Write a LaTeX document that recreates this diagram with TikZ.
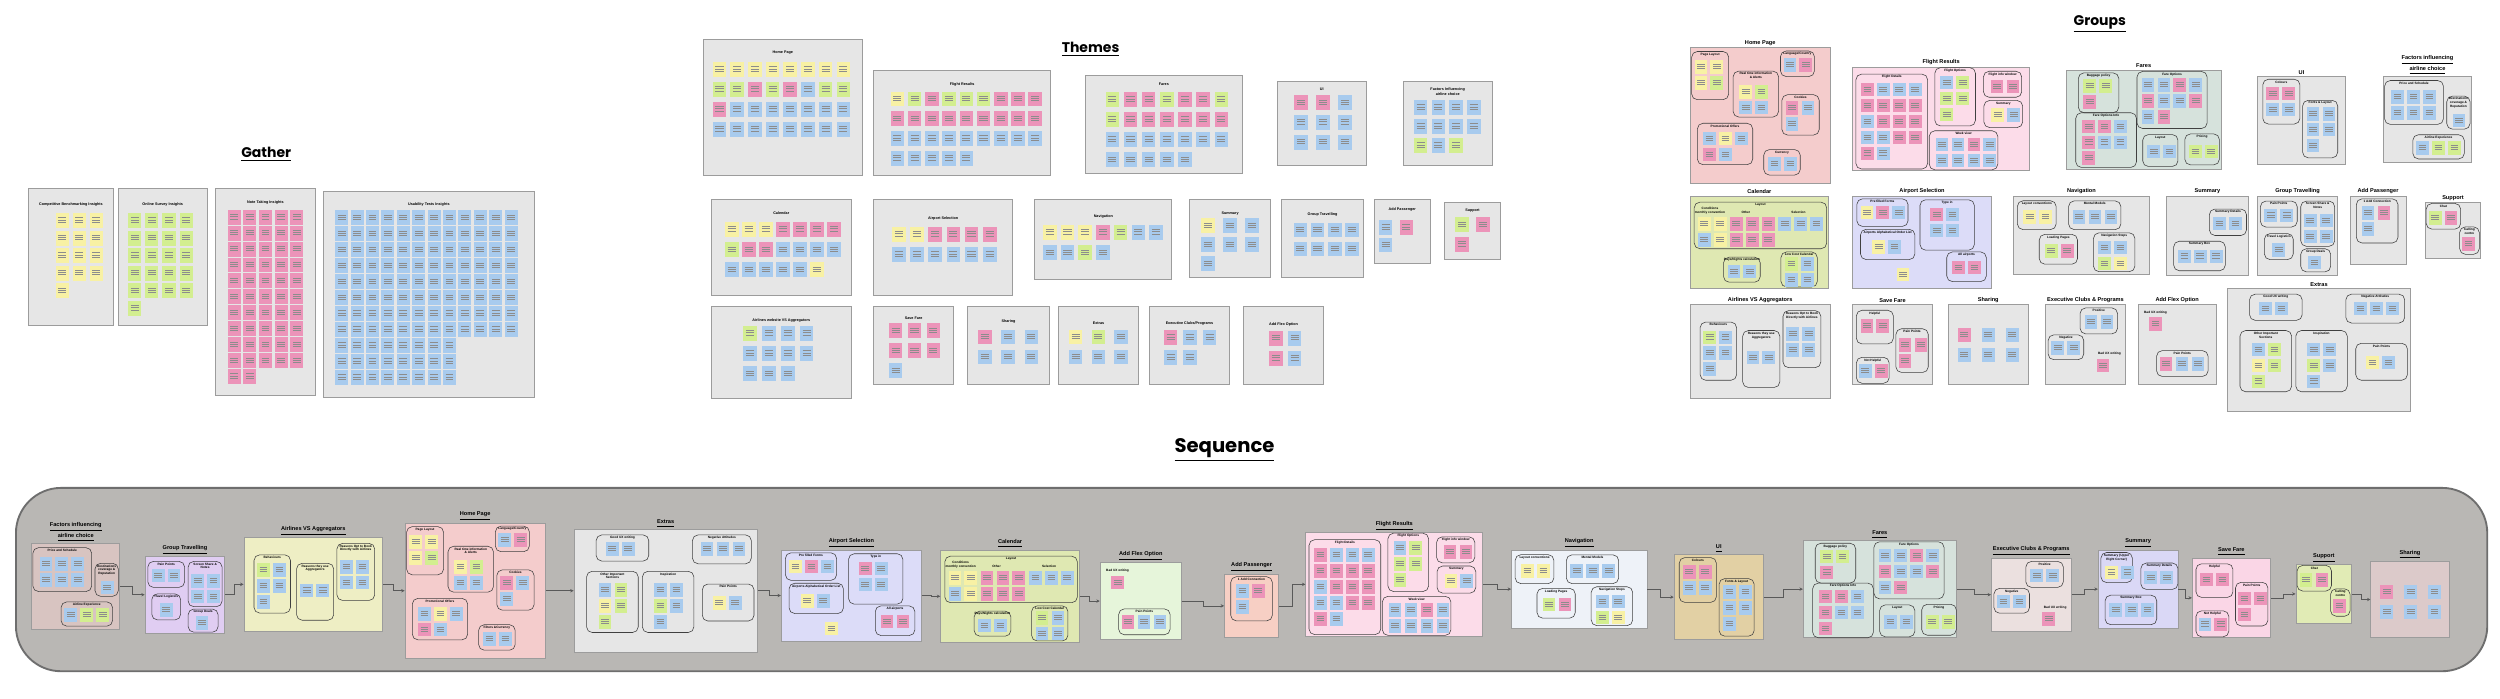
\documentclass[tikz,border=0pt]{standalone}
\usepackage{fontspec}
\setmainfont{Liberation Sans}
\newfontfamily\headfont{Poppins}
\usetikzlibrary{arrows.meta,positioning,fit,calc}

% sticky note colours
\definecolor{sy}{HTML}{F8F1A4}
\definecolor{sg}{HTML}{D3EE90}
\definecolor{sp}{HTML}{EC94B9}
\definecolor{sb}{HTML}{A8CBEE}
% boards
\definecolor{boardgray}{HTML}{E6E6E6}
\definecolor{boardline}{HTML}{9C9C9C}
\definecolor{seqgray}{HTML}{B9B7B4}
\definecolor{seqline}{HTML}{6E6E6E}
\definecolor{pHome}{HTML}{F4CCCC}
\definecolor{pFlight}{HTML}{FCDCE9}
\definecolor{pFares}{HTML}{D6E2DC}
\definecolor{pCal}{HTML}{DFE8B2}
\definecolor{pAirport}{HTML}{DCDCF8}
\definecolor{pFactors}{HTML}{D8C4C1}
\definecolor{pGroupT}{HTML}{E0CDF2}
\definecolor{pAirVS}{HTML}{EEEEC4}
\definecolor{pFlex}{HTML}{E6F5DA}
\definecolor{pAddP}{HTML}{F7CFC4}
\definecolor{pNav}{HTML}{EEF2F8}
\definecolor{pUI}{HTML}{E2D0A4}
\definecolor{pExec}{HTML}{EBE0DF}
\definecolor{pSummary}{HTML}{DAD8F6}
\definecolor{pSave}{HTML}{FAD6E6}
\definecolor{pSupport}{HTML}{E1EBB5}
\definecolor{pSharing}{HTML}{DCCACA}

\tikzset{
  board/.style={draw=boardline, line width=0.45pt, inner sep=0pt},
  seqbox/.style={draw=seqline, fill=seqgray, line width=1pt, rounded corners=0.85cm, inner sep=0pt},
  grp/.style={draw=black!75, line width=0.3pt, rounded corners=3pt},
  txtline/.style={draw=black!45, line width=0.15pt},
  ttitle/.style={font=\fontsize{2}{2.3}\selectfont\bfseries, align=center, inner sep=0.5pt},
  gtitle/.style={font=\fontsize{1.7}{2}\selectfont\bfseries, align=center, inner sep=0.6pt},
  lbl/.style={font=\fontsize{1.7}{2}\selectfont\bfseries, align=center, inner sep=0.5pt},
  ptitle/.style={font=\fontsize{3}{3.5}\selectfont\bfseries, align=center, inner sep=0.8pt},
  bigtitle/.style={font=\headfont\bfseries\fontsize{7.5}{9}\selectfont},
  seqtitle/.style={font=\headfont\bfseries\fontsize{10.5}{12}\selectfont},
  flow/.style={draw=black!65, line width=0.4pt, -{Stealth[length=1.8pt,width=1.8pt]}},
}

% sticky note grids
\newcommand{\pitch}[2]{\def\npx{#1}\def\npy{#2}}
\newcommand{\notesize}[2]{\def\nw{#1}\def\nh{#2}}
\newcommand{\stk}[3]{% x, y, colour
  \fill[#3] (#1,#2) rectangle ++(\nw,\nh);
  \foreach \f in {0.3,0.45,0.6}
    \draw[txtline] ({#1+0.2*\nw},{#2+\f*\nh}) -- ++({0.6*\nw},0);}
\newcommand{\notes}[4]{% x, y, columns, colour list
  \foreach \clr [count=\i from 0] in {#4} {
    \pgfmathsetmacro{\xx}{#1+mod(\i,#3)*\npx}
    \pgfmathsetmacro{\yy}{#2+div(\i,#3)*\npy}
    \stk{\xx}{\yy}{\clr}
  }}
\newcommand{\noteblock}[5]{% x, y, columns, count, colour
  \foreach \i in {1,...,#4} {
    \pgfmathsetmacro{\xx}{#1+mod(\i-1,#3)*\npx}
    \pgfmathsetmacro{\yy}{#2+div(\i-1,#3)*\npy}
    \stk{\xx}{\yy}{#5}
  }}
\newcommand{\sub}[5]{%
  \draw[grp] (#1,#2) rectangle (#3,#4);
  \node[gtitle, anchor=north] at ({(#1+#3)/2},#2) {#5};}
% theme board: [title y] name x y w h title content
\newcommand{\theme}[8][8]{%
  \node[board, fill=boardgray, fit={(#3,#4) ({#3+#5},{#4+#6})}] (#2) {};
  \node[ttitle] (#2-t) at ({#3+#5/2},{#4+#1}) {#7};
  \begin{scope}[shift={(#3,#4)}] #8 \end{scope}}
% group board: name x y w h fill title content
\newcommand{\panel}[8]{%
  \node[board, fill=#6, fit={(#2,#3) ({#2+#4},{#3+#5})}] (#1) {};
  \node[ptitle, anchor=south] (#1-t) at (#1.north) {#7};
  \begin{scope}[shift={(#2,#3)}] #8 \end{scope}}

% board contents
\def\cFactors{%
  \sub{0.6}{2.5}{37.5}{30}{Price and Schedule}
  \notes{4.8}{8.5}{3}{sb,sb,sb,sb,sb,sb}
  \sub{39.6}{12.3}{54.2}{33}{Destinations\\coverage \&\\Reputation}
  \notes{43.3}{23.3}{1}{sb}
  \sub{18.3}{36.5}{50.6}{51.7}{Airline Experience}
  \notes{20.4}{40.5}{3}{sb,sg,sg}}
\def\cGroupT{%
  \sub{1.7}{3.1}{24.8}{19.4}{Pain Points}
  \notes{4.2}{7.8}{2}{sb,sb}
  \sub{27}{3.1}{48.3}{31.5}{Screen Share \&\\Notes}
  \notes{29}{11}{2}{sb,sb,sb,sb}
  \sub{4.2}{23.5}{22.3}{39.8}{Travel Logistics}
  \notes{9.2}{29.4}{1}{sb}
  \sub{27}{33}{45.8}{47.5}{Group Deals}
  \notes{31.7}{37.5}{1}{sb}}
\def\cAirVS{%
  \sub{6.3}{11}{29.2}{47.5}{Behaviours}
  \notes{8.3}{16.3}{2}{sg,sb,sb,sb,sb}
  \sub{33}{16.3}{56.3}{52}{Reasons they use\\Aggregators}
  \notes{35.4}{29}{2}{sb,sb}
  \sub{58.3}{3.8}{82}{39.6}{Reasons Opt to Book\\Directly with Airlines}
  \notes{60.4}{14.2}{2}{sb,sb,sb,sb}}
\def\cHome{%
  \sub{1}{2.3}{24.2}{32.5}{Page Layout}
  \notes{2.8}{7.8}{2}{sy,sy,sy,sg}
  \sub{27}{14.6}{55.5}{43.4}{Real time information\\\& Alerts}
  \notes{30.9}{23.3}{2}{sy,sg,sb,sb}
  \sub{56.7}{2}{78}{18}{Language/Country}
  \notes{58.6}{6.4}{2}{sb,sp}
  \sub{57.6}{29.4}{81}{54.7}{Cookies}
  \notes{59.9}{33.5}{2}{sp,sb,sb}
  \sub{4.6}{47.3}{39.3}{73.3}{Promotional Offers}
  \notes{8.2}{52.7}{3}{sb,sy,sb,sp,sb}
  \sub{46.2}{63.8}{69.1}{79.8}{\curtitle}
  \notes{49}{68.5}{2}{sb,sb}}
\def\cExtras{%
  \sub{13.9}{3.5}{46.9}{19.9}{Good UX writing}
  \notes{20}{8.2}{2}{sb,sb}
  \sub{74.3}{3.5}{111.2}{21.6}{Negative Attitudes}
  \notes{79.5}{8.2}{3}{sb,sb,sb}
  \sub{7.9}{26.3}{40.3}{64.7}{Other Important\\Sections}
  \notes{15.5}{33.9}{2}{sb,sg,sy,sg,sg}
  \sub{42.9}{26.3}{75.2}{64.7}{Inspiration}
  \notes{50.2}{33.9}{2}{sb,sb,sg,sb,sb}
  \sub{80.5}{34.3}{112.9}{57.5}{Pain Points}
  \notes{87.1}{42.1}{2}{sy,sb}}
\def\cAirport{%
  \sub{2.6}{1.7}{34.7}{19}{Pre filled Forms}
  \notes{4.9}{6}{3}{sy,sp,sb}
  \sub{42.2}{2.3}{76.3}{33.9}{Type in}
  \notes{48.7}{7.4}{2}{sp,sb,sb,sb}
  \sub{4.9}{20.8}{39}{39.8}{Airports Alphabetical Order List}
  \notes{12.3}{27.8}{2}{sy,sb}
  \sub{59}{35}{83.8}{53.6}{All airports}
  \notes{62.3}{40.5}{2}{sp,sp}
  \notes{27.6}{45}{1}{sy}}
\def\cCal{%
  \sub{2.6}{3.8}{85.7}{33}{Layout}
  \node[lbl] at (12.5,9.3) {Conditions\\monthly convention};
  \node[lbl] at (35,10) {Other};
  \node[lbl] at (68,10) {Selection};
  \notes{4.9}{13.2}{2}{sy,sy,sb,sy}
  \notes{25}{13.2}{3}{sp,sp,sp,sp,sp,sp}
  \notes{55.4}{13.2}{3}{sb,sb,sb}
  \sub{21}{38.3}{44}{54}{Days/Nights calculation}
  \notes{23.5}{43}{2}{sb,sb}
  \sub{57}{35}{79.8}{57}{Low Cost Calendar}
  \notes{59.6}{38.2}{2}{sg,sb,sb,sb}}
\def\cFlex{%
  \node[lbl, anchor=west] at (3,5) {Bad UX writing};
  \notes{7}{8}{1}{sp}
  \sub{11.6}{28.9}{43.9}{45.1}{Pain Points}
  \notes{13.5}{33}{3}{sp,sb,sb}}
\def\cAddP{%
  \sub{3.9}{1.7}{30}{29.4}{1 Add Connection}
  \notes{7.2}{6.5}{2}{sb,sp,sb}}
\def\cUI{%
  \sub{3.2}{1.7}{26.5}{29.8}{Colours}
  \notes{5.5}{6.4}{2}{sp,sp,sb,sb}
  \sub{28.2}{14.9}{50.2}{51}{Fonts \& Layout}
  \notes{30.7}{19.1}{2}{sb,sb,sb,sb,sb}}
\def\cFares{%
  \sub{7.5}{1.7}{32.9}{26.7}{Baggage policy}
  \notes{10.7}{5.7}{2}{sg,sg,sp}
  \sub{44.3}{0.8}{88.3}{36.6}{Fare Options}
  \notes{47.2}{5.2}{4}{sb,sb,sp,sb,sp,sb,sb,sp,sb,sp}
  \sub{5.9}{26.7}{44}{61}{Fare Options Info}
  \notes{10}{31}{3}{sp,sp,sb,sp,sb,sb,sp}
  \sub{47.9}{40.4}{70}{60.4}{Layout}
  \notes{50.8}{46.7}{2}{sb,sb}
  \sub{74.3}{40}{96}{59.4}{Pricing}
  \notes{76.9}{46.7}{2}{sg,sg}}
\def\cExec{%
  \sub{21.6}{2.1}{45.1}{18.4}{Positive}
  \notes{24.5}{6.8}{2}{sb,sb}
  \sub{1.6}{19}{23.9}{34.6}{Negative}
  \notes{3.6}{23}{2}{sb,sb}
  \node[lbl] at (40,31) {Bad UX writing};
  \notes{32}{34}{1}{sp}}
\def\cSummary{%
  \sub{26.7}{8.1}{50}{24.7}{Summary Details}
  \notes{29}{13}{2}{sb,sb}
  \sub{4.3}{28.3}{36.7}{46.8}{Summary Box}
  \notes{7}{33.5}{3}{sb,sb,sb}}
\def\cSave{%
  \sub{2.3}{3.6}{25.5}{24.7}{Helpful}
  \notes{4.9}{9.3}{2}{sp,sp}
  \sub{27.1}{15.2}{47.4}{42.6}{Pain Points}
  \notes{28.8}{21.1}{2}{sp,sp,sp}
  \sub{2.3}{33.1}{22.9}{49.4}{Not Helpful}
  \notes{3.9}{37.3}{2}{sb,sp}}
\def\cSharing{%
  \pitch{15}{12.5}\notes{6}{15}{3}{sp,sb,sb,sb,sb,sb}}
\def\cSupport{%
  \sub{0.7}{0.6}{22.3}{16.7}{Chat}
  \notes{2.3}{5.6}{2}{sg,sp}
  \sub{21.7}{15.3}{34}{32.5}{Calling\\centre}
  \notes{23.3}{21.8}{1}{sp}}
\def\cNav{%
  \sub{2.3}{2.9}{26.6}{21}{Layout conventions}
  \notes{6}{9}{2}{sy,sy}
  \sub{34.4}{3}{67.2}{21}{Mental Models}
  \notes{37}{9}{3}{sb,sb,sb}
  \sub{16}{24}{40}{42.7}{Loading Pages}
  \notes{19.5}{30}{2}{sg,sp}
  \sub{50}{23}{76}{47.4}{Navigation Steps}
  \notes{53}{28}{2}{sb,sb,sg,sy}}
\def\cFlight{%
  \sub{2}{4.5}{47}{64}{Flight Details}
  \notes{5.2}{9.9}{4}{sp,sb,sb,sb,sp,sp,sp,sp,sb,sp,sp,sp,sb,sb,sp,sp,sp,sb}
  \sub{51.5}{0.4}{77}{37}{Flight Options}
  \notes{55}{5.6}{2}{sb,sg,sg,sg,sg}
  \sub{82}{2.7}{106}{19}{Flight info window}
  \notes{86.5}{8}{2}{sp,sp}
  \sub{82.3}{21}{106.6}{38}{Summary}
  \notes{87}{26}{2}{sy,sb}
  \sub{48}{40}{91}{64.5}{Week view}
  \notes{52}{44.5}{4}{sb,sb,sp,sb,sb,sb,sb,sb}}

\begin{document}
\begin{tikzpicture}[x=0.03cm, y=-0.03cm]
\useasboundingbox (0,0) rectangle (1568,437.8);
\fill[white] (0,0) rectangle (1568,437.8);

% headings
\node[bigtitle] (gather) at (167,97) {\underline{Gather}};
\node[bigtitle] (themes) at (684,31) {\underline{Themes}};
\node[bigtitle] (groups) at (1317,15) {\underline{Groups}};
\node[seqtitle] (sequence) at (768,282) {\underline{Sequence}};

% Gather
\notesize{8.2}{9.4}
\theme[10]{gaBench}{18}{118}{53}{86}{Competitive Benchmarking Insights}{\pitch{10.6}{11}\noteblock{17}{15.6}{3}{13}{sy}}
\theme[10]{gaSurvey}{74}{118}{56}{86}{Online Survey Insights}{\pitch{10.7}{11}\noteblock{6.5}{15.6}{4}{21}{sg}}
\theme[9]{gaNotes}{135}{118}{63}{130}{Note Taking Insights}{\pitch{9.8}{10}\noteblock{7.8}{13.5}{5}{52}{sp}}
\theme[8]{gaTests}{203}{120}{132}{129}{Usability Tests Insights}{\pitch{9.66}{10}\noteblock{7.2}{12}{12}{96}{sb}\noteblock{7.2}{92}{8}{24}{sb}}

% Themes
\notesize{8.5}{9.3}
\theme{tHome}{441}{25}{100}{85}{Home Page}{\pitch{11.1}{12.5}%
  \notes{6}{13.9}{8}{sy,sy,sy,sy,sy,sy,sy,sy,sg,sg,sp,sg,sp,sb,sg,sg,sp,sb,sb,sb,sb,sb,sb,sb,sb,sb,sb,sb,sb,sb,sb,sb}}
\theme[9]{tFlight}{548}{44}{111}{66}{Flight Results}{\pitch{10.8}{12.4}%
  \notes{10.6}{13.4}{9}{sy,sg,sp,sg,sg,sg,sp,sp,sp,sp,sp,sp,sp,sp,sp,sp,sp,sp,sb,sb,sb,sb,sb,sb,sb,sb,sb,sb,sb,sb,sb,sb}}
\theme[6]{tFares}{681}{47}{98}{62}{Fares}{\pitch{11.4}{12.6}%
  \notes{12.4}{10.7}{7}{sg,sp,sp,sg,sp,sp,sg,sg,sp,sp,sp,sp,sp,sp,sb,sb,sb,sb,sb,sb,sb,sb,sb,sb,sb,sb}}
\theme[5]{tUI}{801}{51}{56}{53}{UI}{\pitch{13.7}{12.4}\notes{10.8}{8.7}{3}{sp,sp,sb,sb,sb,sb,sb,sb,sb}}
\theme[6.5]{tFactors}{880}{51}{56}{53}{Factors Influencing\\airline choice}{\pitch{11.1}{11.9}%
  \notes{6.8}{11.8}{4}{sb,sb,sb,sb,sb,sb,sb,sb,sg,sb,sg}}
\theme[8.5]{tCal}{446}{125}{88}{60}{Calendar}{\pitch{10.7}{12.7}%
  \notes{8.7}{14.2}{7}{sy,sy,sy,sp,sp,sp,sp,sg,sp,sp,sb,sb,sb,sb,sb,sb,sb,sb,sb,sy}}
\theme[12]{tAirport}{548}{125}{87}{60}{Airport Selection}{\pitch{11.4}{12.7}%
  \notes{11.5}{17.3}{6}{sy,sy,sp,sp,sp,sp,sb,sb,sb,sb,sb,sb}}
\theme[10.5]{tNav}{649}{125}{86}{50}{Navigation}{\pitch{11.1}{12.8}%
  \notes{5.2}{16}{7}{sy,sy,sy,sp,sg,sb,sb,sb,sb,sg,sb}}
\theme[8.8]{tSummary}{746}{125}{51}{49}{Summary}{\pitch{13.8}{11.9}\notes{7.4}{11.9}{3}{sy,sb,sb,sb,sb,sb,sb}}
\theme[9.5]{tGroupT}{804}{125}{51}{49}{Group Travelling}{\pitch{10.8}{11.9}\noteblock{7.3}{14.6}{4}{8}{sb}}
\theme[6.5]{tAddP}{862}{125}{35}{40}{Add Passenger}{\pitch{13}{11}\notes{2.8}{13}{2}{sb,sp,sb}}
\theme[5.2]{tSupport}{906}{127}{35}{36}{Support}{\pitch{13}{12.1}\notes{6.8}{9.4}{2}{sg,sp,sp}}
\theme[9]{tAirVS}{446}{192}{88}{58}{Airlines website VS Aggregators}{\pitch{11.8}{12.7}%
  \notes{20.3}{12.3}{4}{sg,sb,sb,sb,sb,sb,sb,sb,sb,sb,sb}}
\theme[7.4]{tSave}{548}{192}{50}{49}{Save Fare}{\pitch{11.8}{12.6}\notes{9.5}{10.7}{3}{sp,sp,sp,sp,sp,sp,sb}}
\theme[9.5]{tSharing}{607}{192}{51}{49}{Sharing}{\pitch{14.6}{12.6}\notes{6.4}{14.7}{3}{sp,sb,sb,sb,sb,sb}}
\theme[10.5]{tExtras}{664}{192}{50}{49}{Extras}{\pitch{14.2}{12.6}\notes{6.4}{14.7}{3}{sy,sg,sb,sb,sb,sb}}
\theme[11]{tExec}{721}{192}{50}{49}{Executive Clubs/Programs}{\pitch{12.2}{12.6}\notes{9}{15}{3}{sp,sb,sb,sb,sb}}
\theme[11.5]{tFlex}{780}{192}{50}{49}{Add Flex Option}{\pitch{11.7}{12.6}\notes{16}{15.4}{2}{sp,sb,sp,sb}}

% Groups
\pitch{10}{10}\notesize{8}{8.5}
\def\curtitle{Currency}
\panel{gHome}{1060}{30}{88}{85}{pHome}{Home Page}{\cHome}
\panel{gFlight}{1162}{42}{111}{65}{pFlight}{Flight Results}{\cFlight}
\panel{gFares}{1296}{44}{97}{62}{pFares}{Fares}{\cFares}
\panel{gUI}{1416}{48}{55}{55}{boardgray}{UI}{\cUI}
\panel{gFactors}{1495}{48}{55}{54}{boardgray}{\underline{Factors influencing}\\\underline{airline choice}}{\cFactors}
\panel{gCal}{1060}{123}{87}{58}{pCal}{Calendar}{\cCal}
\panel{gAirport}{1162}{123}{87}{58}{pAirport}{Airport Selection}{\cAirport}
\panel{gNav}{1263}{123}{85}{49}{boardgray}{Navigation}{\cNav}
\panel{gSummary}{1359}{123}{51}{50}{boardgray}{Summary}{\cSummary}
\panel{gGroupT}{1416}{123}{50}{50}{boardgray}{Group Travelling}{\cGroupT}
\panel{gAddP}{1474}{123}{35}{43}{boardgray}{Add Passenger}{\cAddP}
\panel{gSupport}{1521}{127}{35}{35}{boardgray}{Support}{\cSupport}
\panel{gAirVS}{1060}{191}{88}{59}{boardgray}{Airlines VS Aggregators}{\cAirVS}
\panel{gSave}{1162}{191}{50}{50}{boardgray}{Save Fare}{\cSave}
\panel{gSharing}{1222}{191}{50}{50}{boardgray}{Sharing}{\cSharing}
\panel{gExec}{1283}{191}{50}{50}{boardgray}{Executive Clubs \& Programs}{\cExec}
\panel{gFlex}{1341}{191}{49}{50}{boardgray}{Add Flex Option}{\cFlex}
\panel{gExtras}{1397}{181}{115}{77}{boardgray}{Extras}{\cExtras}

% Sequence
\node[seqbox, fit={(10,306) (1560,421)}] (seq) {};
\def\curtitle{Filters \&Currency}
\panel{sFactors}{20}{341}{55}{54}{pFactors}{\underline{Factors influencing}\\\underline{airline choice}}{\cFactors}
\panel{sGroupT}{91}{349}{50}{48}{pGroupT}{\underline{Group Travelling}}{\cGroupT}
\panel{sAirVS}{153}{337}{87}{59}{pAirVS}{\underline{Airlines VS Aggregators}}{\cAirVS}
\panel{sHome}{254}{328}{88}{85}{pHome}{\underline{Home Page}}{\cHome}
\panel{sExtras}{360}{332}{115}{77}{boardgray}{\underline{Extras}}{\cExtras}
\panel{sAirport}{490}{345}{88}{57}{pAirport}{\underline{Airport Selection}}{\cAirport}
\panel{sCal}{590}{345}{87}{58}{pCal}{\underline{Calendar}}{\cCal}
\panel{sFlex}{690}{353}{51}{48}{pFlex}{\underline{Add Flex Option}}{\cFlex}
\panel{sAddP}{768}{360}{34}{40}{pAddP}{\underline{Add Passenger}}{\cAddP}
\panel{sFlight}{819}{334}{111}{65}{pFlight}{\underline{Flight Results}}{\cFlight}
\panel{sNav}{948}{345}{85}{49}{pNav}{\underline{Navigation}}{\cNav}
\panel{sUI}{1050}{348}{56}{53}{pUI}{\underline{UI}}{\cUI}
\panel{sFares}{1131}{339}{96}{61}{pFares}{\underline{Fares}}{\cFares}
\panel{sExec}{1249}{350}{50}{46}{pExec}{\underline{Executive Clubs \& Programs}}{\cExec}
\panel{sSummary}{1316}{345}{50}{49}{pSummary}{\underline{Summary}}{\cSummary
  \sub{1.7}{1.5}{21.4}{20.4}{Summary (Upper\\Right Corner)}\notes{4.4}{9.7}{2}{sy,sb}}
\panel{sSave}{1375}{350}{49}{50}{pSave}{\underline{Save Fare}}{\cSave}
\panel{sSupport}{1440}{354}{35}{37}{pSupport}{\underline{Support}}{\cSupport}
\panel{sSharing}{1487}{352}{49}{48}{pSharing}{\underline{Sharing}}{\cSharing}

\foreach \a/\b in {sFactors/sGroupT, sGroupT/sAirVS, sAirVS/sHome, sHome/sExtras,
    sExtras/sAirport, sAirport/sCal, sCal/sFlex, sFlex/sAddP, sAddP/sFlight,
    sFlight/sNav, sNav/sUI, sUI/sFares, sFares/sExec, sExec/sSummary,
    sSummary/sSave, sSave/sSupport, sSupport/sSharing}
  \draw[flow] (\a.east) -| ($(\a.east)!.5!(\b.west)$) |- (\b.west);
\end{tikzpicture}
\end{document}
